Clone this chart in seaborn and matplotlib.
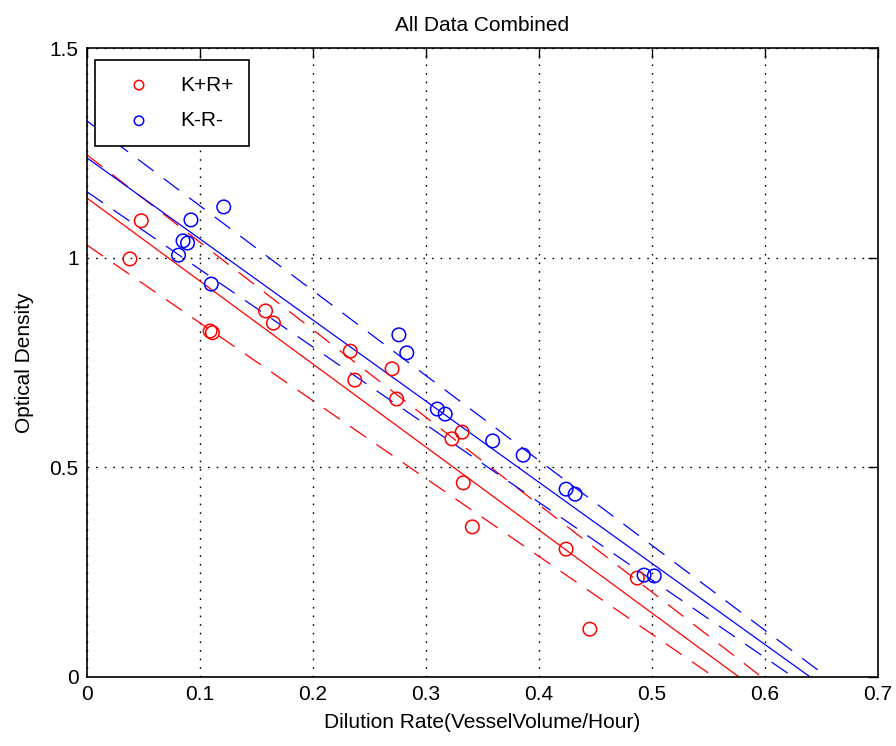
import matplotlib
matplotlib.use("Agg")
import matplotlib.pyplot as plt
import seaborn as sns
import pandas as pd

# ---- data ----
red_x = [0.038, 0.048, 0.109, 0.111, 0.158, 0.165, 0.233, 0.237, 0.270, 0.274,
         0.323, 0.332, 0.333, 0.341, 0.424, 0.445, 0.487]
red_y = [0.997, 1.088, 0.825, 0.821, 0.873, 0.844, 0.777, 0.708, 0.735, 0.663,
         0.568, 0.584, 0.463, 0.358, 0.305, 0.114, 0.236]
blue_x = [0.081, 0.085, 0.089, 0.092, 0.110, 0.121, 0.276, 0.283, 0.310, 0.317,
          0.359, 0.386, 0.424, 0.432, 0.493, 0.502]
blue_y = [1.006, 1.040, 1.035, 1.090, 0.937, 1.121, 0.816, 0.773, 0.639, 0.627,
          0.563, 0.529, 0.448, 0.436, 0.243, 0.241]

# fitted lines: value at x=0 and x where they reach 0 (lower band, fit, upper band)
red_fit_y0 = [1.030, 1.142, 1.245]
red_fit_x0 = [0.555, 0.577, 0.597]
blue_fit_y0 = [1.157, 1.238, 1.326]
blue_fit_x0 = [0.625, 0.640, 0.655]

series_labels = ["K+R+", "K-R-"]
x_ticks = [0, 0.1, 0.2, 0.3, 0.4, 0.5, 0.6, 0.7]
x_tick_labels = ["0", "0.1", "0.2", "0.3", "0.4", "0.5", "0.6", "0.7"]
y_ticks = [0, 0.5, 1, 1.5]
y_tick_labels = ["0", "0.5", "1", "1.5"]

sns.set_style("white")
plt.rcParams["font.family"] = ["Liberation Sans", "DejaVu Sans"]
plt.rcParams["lines.scale_dashes"] = False
plt.rcParams["text.color"] = "black"
plt.rcParams["axes.labelcolor"] = "black"
plt.rcParams["xtick.color"] = "black"
plt.rcParams["ytick.color"] = "black"

fig = plt.figure(figsize=(8.96, 7.46), dpi=100)
ax = fig.add_axes([87 / 896, 1 - 677 / 746, 791 / 896, 629 / 746])

RED = "#ff0000"
BLUE = "#0000ff"
FS = 15

# lines
for y0s, x0s, col in [(red_fit_y0, red_fit_x0, RED), (blue_fit_y0, blue_fit_x0, BLUE)]:
    for i, (y0, x0) in enumerate(zip(y0s, x0s)):
        df = pd.DataFrame({"x": [0.0, x0], "y": [y0, 0.0]})
        ls = "-" if i == 1 else (0, (14, 9))
        sns.lineplot(data=df, x="x", y="y", ax=ax, color=col, lw=0.9,
                     linestyle=ls, sort=False, estimator=None, zorder=2)

# points
sns.scatterplot(x=red_x, y=red_y, ax=ax, marker="o", s=95, facecolors="none",
                edgecolors=RED, linewidths=1.1, label=series_labels[0], zorder=3)
sns.scatterplot(x=blue_x, y=blue_y, ax=ax, marker="o", s=95, facecolors="none",
                edgecolors=BLUE, linewidths=1.1, label=series_labels[1], zorder=3)

ax.set_xlim(0, 0.7)
ax.set_ylim(0, 1.5)
ax.set_xticks(x_ticks)
ax.set_xticklabels(x_tick_labels)
ax.set_yticks(y_ticks)
ax.set_yticklabels(y_tick_labels)
ax.tick_params(direction="in", length=7, width=1, top=True, right=True,
               labelsize=FS, pad=6, colors="black")
ax.grid(True, color="black", linestyle=(0, (1.2, 5)), linewidth=1.0)
for sp in ax.spines.values():
    sp.set_color("black")
    sp.set_linewidth(1.2)

ax.set_title("All Data Combined", fontsize=FS, pad=12, color="black")
ax.set_xlabel("Dilution Rate(VesselVolume/Hour)", fontsize=FS, labelpad=6)
ax.set_ylabel("Optical Density", fontsize=FS, labelpad=11)

leg = ax.legend(loc="upper left", bbox_to_anchor=(0.010, 0.981), borderaxespad=0,
                fontsize=FS, frameon=True, fancybox=False, framealpha=1,
                edgecolor="black", handletextpad=0.61, borderpad=0.75,
                labelspacing=0.8, handlelength=2.73, markerscale=0.7)
leg.get_frame().set_linewidth(1.2)
for t in leg.get_texts():
    t.set_color("black")

fig.savefig("out.png", dpi=100, facecolor="white")
